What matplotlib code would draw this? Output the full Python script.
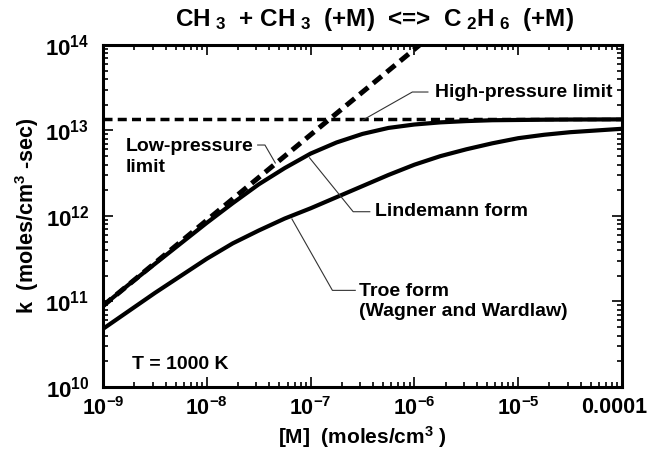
import numpy as np
import matplotlib
matplotlib.use("Agg")
import matplotlib.pyplot as plt
from matplotlib.ticker import LogLocator, NullFormatter, FixedLocator, FixedFormatter
from matplotlib.transforms import ScaledTranslation

plt.rcParams['font.family'] = ['Liberation Sans', 'DejaVu Sans']
plt.rcParams['font.weight'] = 'bold'
plt.rcParams['mathtext.fontset'] = 'custom'
plt.rcParams['mathtext.rm'] = 'Liberation Sans:bold'
plt.rcParams['mathtext.it'] = 'Liberation Sans:bold'
plt.rcParams['mathtext.bf'] = 'Liberation Sans:bold'
plt.rcParams['mathtext.default'] = 'rm'

# ---- data ----
log_M = [-9.0, -8.75, -8.5, -8.25, -8.0, -7.75, -7.5, -7.25, -7.0, -6.75, -6.5,
         -6.25, -6.0, -5.75, -5.5, -5.25, -5.0, -4.75, -4.5, -4.25, -4.0]
lindemann_logk = [10.95, 11.20, 11.44, 11.68, 11.92, 12.15, 12.37, 12.56, 12.73, 12.86, 12.96,
                  13.03, 13.07, 13.095, 13.11, 13.12, 13.123, 13.126, 13.128, 13.129, 13.13]
troe_logk = [10.68, 10.89, 11.10, 11.30, 11.50, 11.68, 11.83, 11.97, 12.09, 12.22, 12.35,
             12.48, 12.60, 12.70, 12.78, 12.85, 12.91, 12.95, 12.98, 13.00, 13.02]
high_limit_logM = [-9.0, -4.0]
high_limit_logk = [13.13, 13.13]
low_limit_logM = [-9.0, -5.0]
low_limit_logk = [10.95, 14.95]

x_ticks = [1e-9, 1e-8, 1e-7, 1e-6, 1e-5, 1e-4]
x_ticklabels = [r'$10^{-9}$', r'$10^{-8}$', r'$10^{-7}$', r'$10^{-6}$', r'$10^{-5}$', '0.0001']
y_ticks = [1e10, 1e11, 1e12, 1e13, 1e14]
y_ticklabels = [r'$10^{10}$', r'$10^{11}$', r'$10^{12}$', r'$10^{13}$', r'$10^{14}$']

def p(v):
    return np.power(10.0, np.asarray(v, dtype=float))

fig = plt.figure(figsize=(6.52, 4.54), dpi=100)
ax = fig.add_axes([0.158, 0.1476, 0.796, 0.7533])

ax.plot(p(high_limit_logM), p(high_limit_logk), color='black', lw=2.5, dashes=(2.6, 1.5))
ax.plot(p(low_limit_logM), p(low_limit_logk), color='black', lw=3.6, dashes=(2.2, 1.3))
ax.plot(p(log_M), p(lindemann_logk), color='black', lw=3.0, solid_capstyle='round')
ax.plot(p(log_M), p(troe_logk), color='black', lw=3.0, solid_capstyle='round')

ax.set_xscale('log')
ax.set_yscale('log')
ax.set_xlim(1e-9, 1e-4)
ax.set_ylim(1e10, 1e14)

ax.xaxis.set_major_locator(FixedLocator(x_ticks))
ax.xaxis.set_major_formatter(FixedFormatter(x_ticklabels))
ax.yaxis.set_major_locator(FixedLocator(y_ticks))
ax.yaxis.set_major_formatter(FixedFormatter(y_ticklabels))
ax.xaxis.set_minor_locator(LogLocator(base=10, subs=np.arange(2, 10), numticks=20))
ax.yaxis.set_minor_locator(LogLocator(base=10, subs=np.arange(2, 10), numticks=20))
ax.xaxis.set_minor_formatter(NullFormatter())
ax.yaxis.set_minor_formatter(NullFormatter())
ax.tick_params(which='both', direction='in', top=True, right=True, width=1.2)
ax.tick_params(which='major', length=7, labelsize=16)
ax.tick_params(axis='x', which='major', labelsize=15.5, pad=7)
ax.tick_params(axis='y', which='major', pad=10)
ax.tick_params(which='minor', length=3.5)
for s in ax.spines.values():
    s.set_linewidth(2.2)

# nudge the last x tick label ("0.0001") left so it stays inside the figure
last = ax.get_xticklabels()[-1]
last.set_transform(last.get_transform() + ScaledTranslation(-0.08, 0, fig.dpi_scale_trans))

ax.set_xlabel(r'[M]  (moles/cm$^3$ )', fontsize=15, fontweight='bold', labelpad=3)
ax.set_ylabel(r'k  (moles/cm$^3$ -sec)', fontsize=15.5, fontweight='bold', labelpad=3)
fig.text(0.575, 0.958, r'CH$_{\ 3}$  + CH$_{\ 3}$  (+M)  <=>  C$_{\ 2}$H$_{\ 6}$  (+M)',
         fontsize=17.5, fontweight='bold', ha='center', va='center')

lead = dict(color='#333333', lw=0.8)
ax.plot(p([-5.87, -6.02, -6.50]), p([13.45, 13.45, 13.12]), **lead)
ax.plot(p([-7.51, -7.44, -7.34]), p([12.83, 12.83, 12.62]), **lead)
ax.plot(p([-6.43, -6.59, -7.01]), p([12.05, 12.05, 12.68]), **lead)
ax.plot(p([-6.57, -6.79, -7.18]), p([11.13, 11.13, 11.965]), **lead)

tk = dict(fontsize=14, fontweight='bold', ha='left', va='center')
ax.text(10**-5.80, 10**13.45, 'High-pressure limit', **tk)
ax.text(10**-8.78, 10**12.69, 'Low-pressure\nlimit', linespacing=1.25, **tk)
ax.text(10**-6.38, 10**12.05, 'Lindemann form', **tk)
ax.text(10**-6.53, 10**11.0, 'Troe form\n(Wagner and Wardlaw)', linespacing=1.25, **tk)
ax.text(10**-8.72, 10**10.26, 'T = 1000 K', **tk)

fig.savefig('out.png', dpi=100)
